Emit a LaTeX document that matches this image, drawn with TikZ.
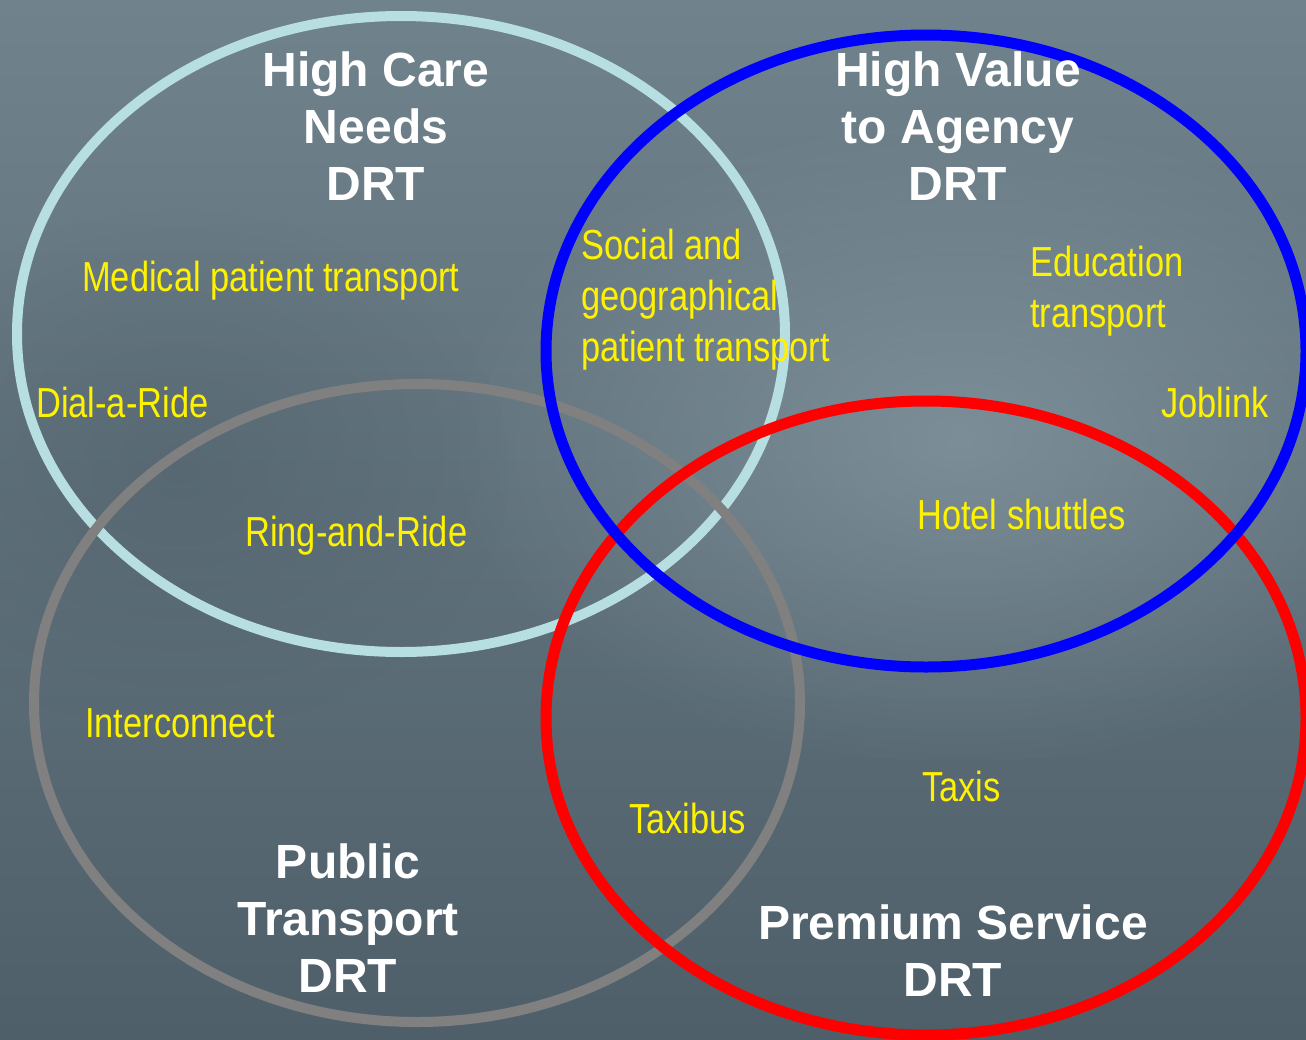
\documentclass[tikz,border=0pt]{standalone}
\usepackage{fontspec}
\setmainfont{Liberation Sans}
\newfontfamily\narrowfont[FakeStretch=0.82]{Liberation Sans}
\usetikzlibrary{fadings}
\definecolor{skytop}{RGB}{112,130,140}
\definecolor{skylow}{RGB}{78,95,106}
\definecolor{skylight}{RGB}{135,153,162}
\definecolor{careline}{RGB}{183,223,226}
\definecolor{publine}{RGB}{128,128,128}
\tikzfading[name=softblob, inner color=transparent!0, outer color=transparent!100]
\begin{document}
\begin{tikzpicture}[x=1pt,y=-1pt,
    ring/.style ={line width=10pt},
    heading/.style ={text=white, inner sep=0pt, align=center, font=\bfseries\fontsize{48}{57}\selectfont},
    item/.style ={text=yellow, inner sep=0pt, align=left, font=\narrowfont\fontsize{42}{51}\selectfont}]
   \useasboundingbox (0,0) rectangle (1306,1039);
   % sky background
   \shade[top color=skytop, bottom color=skylow] (0,0) rectangle (1306,1039);
   \fill[skylight, opacity=.7, path fading=softblob] (960,440) ellipse [x radius=520pt, y radius=330pt];
   \fill[skylow, opacity=.5, path fading=softblob] (180,470) ellipse [x radius=330pt, y radius=260pt];
   % the four groups
   \draw[ring, careline] (401,334) ellipse [x radius=384pt, y radius=318pt];
   \draw[ring, publine] (417,703) ellipse [x radius=383pt, y radius=319pt];
   \draw[ring, line width=11pt, red] (926,718) ellipse [x radius=380pt, y radius=317pt];
   \draw[ring, line width=11pt, blue] (926,351) ellipse [x radius=380pt, y radius=316pt];
   \node[heading] (care) at (376,126) {High Care\\Needs\\DRT};
   \node[heading] (value) at (958,126) {High Value\\to Agency\\DRT};
   \node[heading] (public) at (348,918) {Public\\Transport\\DRT};
   \node[heading] (premium) at (953,951) {Premium Service\\DRT};
   % services
   \node[item, anchor=base west] (medical) at (82,291) {Medical patient transport};
   \node[item, anchor=base west] (dial) at (36,417) {Dial-a-Ride};
   \node[item, anchor=north west] (social) at (581,229) {Social and\\geographical\\patient transport};
   \node[item, anchor=north west] (education) at (1030,246) {Education\\transport};
   \node[item, anchor=base west] (joblink) at (1161,417) {Joblink};
   \node[item, anchor=base west] (ring) at (245,546) {Ring-and-Ride};
   \node[item, anchor=base west] (hotel) at (917,529) {Hotel shuttles};
   \node[item, anchor=base west] (inter) at (85,737) {Interconnect};
   \node[item, anchor=base west] (taxibus) at (629,833) {Taxibus};
   \node[item, anchor=base west] (taxis) at (922,801) {Taxis};
 \end{tikzpicture}
\end{document}
